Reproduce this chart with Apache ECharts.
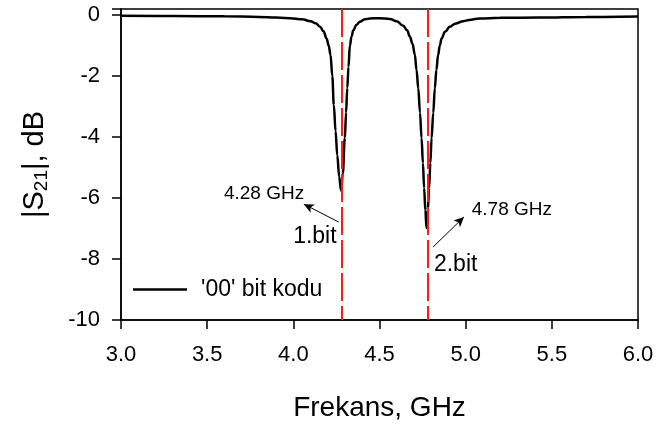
<!DOCTYPE html>
<html>
<head>
<meta charset="utf-8">
<script src="https://cdn.jsdelivr.net/npm/echarts@6/dist/echarts.min.js"></script>
<style>
  html, body { margin: 0; padding: 0; background: #fff; }
  #chart { width: 657px; height: 427px; }
</style>
</head>
<body>
<div id="chart"></div>
<script>
// values
const freq = [3.0, 3.3, 3.6, 3.8, 3.9, 4.0, 4.05, 4.1, 4.13, 4.155, 4.175, 4.193, 4.205, 4.216, 4.226,
  4.235, 4.245, 4.255, 4.266, 4.277, 4.287, 4.299, 4.306, 4.313, 4.32, 4.328, 4.338, 4.348, 4.366,
  4.386, 4.415, 4.444, 4.5, 4.56, 4.6, 4.638, 4.66, 4.676, 4.692, 4.705, 4.715, 4.725, 4.735, 4.744,
  4.752, 4.759, 4.766, 4.773, 4.78, 4.788, 4.795, 4.802, 4.812, 4.821, 4.83, 4.84, 4.85, 4.86, 4.88,
  4.908, 4.94, 4.986, 5.03, 5.08, 5.2, 5.43, 5.7, 6.0]
const s21 = [-0.02, -0.03, -0.04, -0.06, -0.08, -0.11, -0.14, -0.2, -0.27, -0.38, -0.53, -0.77, -1.0, -1.31, -2.0,
  -2.95, -3.8, -4.6, -5.3, -5.75, -5.2, -4.03, -3.2, -2.39, -1.7, -1.0, -0.7, -0.5, -0.32,
  -0.22, -0.14, -0.11, -0.1, -0.13, -0.2, -0.35, -0.5, -0.7, -0.95, -1.3, -1.8, -2.4, -3.2, -4.04,
  -4.85, -5.67, -6.4, -6.98, -6.4, -5.67, -4.85, -4.04, -3.2, -2.4, -1.8, -1.31, -1.0, -0.77, -0.55,
  -0.38, -0.28, -0.2, -0.15, -0.11, -0.09, -0.08, -0.06, -0.05]
const markers = [4.28, 4.78]
const yTicks = [0, -2, -4, -6, -8, -10]
const seriesName = "'00' bit kodu"

const font = 'Liberation Sans, Arial, sans-serif'
const chart = echarts.init(document.getElementById('chart'))

const arrow = (from, to) => [
  { coord: from, symbol: 'none' },
  { coord: to, symbol: 'arrow', symbolSize: [7, 10] },
]
const note = (coord, text, size) => ({
  coord,
  symbol: 'rect',
  symbolSize: 0,
  label: { show: true, formatter: text, fontSize: size, color: '#000', fontFamily: font, position: 'inside' },
})

chart.setOption({
  animation: false,
  grid: { left: 121, right: 19, top: 9, bottom: 107, show: true, borderColor: '#000', borderWidth: 1.5 },
  legend: {
    left: 128, top: 273,
    icon: 'rect', itemWidth: 54, itemHeight: 2.5,
    textStyle: { fontSize: 23, color: '#000', fontFamily: font, padding: [0, 0, 0, 9] },
    data: [seriesName],
  },
  xAxis: {
    type: 'value', min: 3, max: 6, interval: 0.5,
    name: 'Frekans, GHz', nameLocation: 'middle', nameGap: 74,
    nameTextStyle: { fontSize: 28, color: '#000', fontFamily: font },
    axisLine: { onZero: false, lineStyle: { color: '#000', width: 1.5 } },
    axisTick: { show: true, length: 9, lineStyle: { color: '#000', width: 1.5 } },
    axisLabel: { fontSize: 22, color: '#000', fontFamily: font, margin: 24, formatter: (v) => v.toFixed(1) },
    splitLine: { show: false },
  },
  yAxis: {
    type: 'value', min: -10, max: 0.2, interval: 2,
    name: '|S{sub|21}|, dB', nameLocation: 'middle', nameGap: 70,
    nameTextStyle: {
      fontSize: 29, color: '#000', fontFamily: font,
      rich: { sub: { fontSize: 19, verticalAlign: 'bottom', padding: [13, 0, 0, 0], fontFamily: font, color: '#000' } },
    },
    axisLine: { show: true, onZero: false, lineStyle: { color: '#000', width: 1.5 } },
    axisTick: { show: true, length: 9, lineStyle: { color: '#000', width: 1.5 } },
    axisLabel: {
      fontSize: 22, color: '#000', fontFamily: font, margin: 21,
      formatter: (v) => (yTicks.includes(v) ? String(v) : ''),
    },
    splitLine: { show: false },
  },
  series: [{
    name: seriesName,
    type: 'line',
    data: freq.map((f, i) => [f, s21[i]]),
    showSymbol: false,
    smooth: 0.4,
    smoothMonotone: 'x',
    color: '#000',
    lineStyle: { color: '#000', width: 2.5 },
    markLine: {
      silent: true,
      animation: false,
      label: { show: false },
      data: [
        ...markers.map((m) => [
          { coord: [m, 0.2], symbol: 'none', lineStyle: { color: '#ff1a1a', width: 2, type: [28, 5] } },
          { coord: [m, -10], symbol: 'none' },
        ]),
        arrow([4.264, -6.79], [4.061, -6.2]),
        arrow([4.81, -7.61], [4.99, -6.62]),
      ],
      lineStyle: { color: '#000', width: 1, type: 'solid' },
    },
    markPoint: {
      silent: true,
      data: [
        note([3.83, -5.87], '4.28 GHz', 19),
        note([4.125, -7.28], '1.bit', 23),
        note([5.268, -6.39], '4.78 GHz', 19),
        note([4.942, -8.2], '2.bit', 23),
      ],
    },
  }],
})
</script>
</body>
</html>
